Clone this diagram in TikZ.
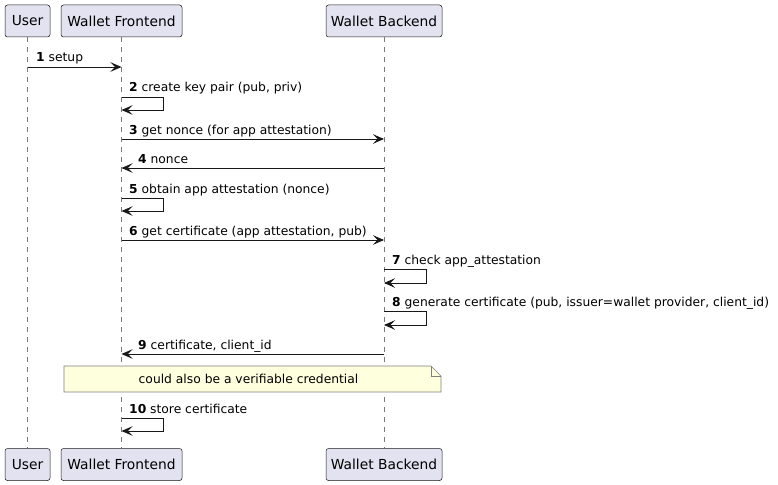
\documentclass[tikz,border=0pt]{standalone}
\usepackage{fontspec}
\setmainfont{DejaVu Sans}
\usetikzlibrary{arrows.meta}
\definecolor{partfill}{HTML}{E2E2F0}
\definecolor{partline}{HTML}{181818}
\definecolor{notefill}{HTML}{FEFFDD}
\definecolor{noteline}{HTML}{808080}
\definecolor{lifeline}{HTML}{7A7A7A}
\begin{document}
\begin{tikzpicture}[x=1pt,y=-1pt,
 part/.style={draw=partline, fill=partfill, rounded corners=2.5pt, line width=0.5pt, minimum height=32pt, inner sep=0pt, font=\fontsize{13.8}{15}\selectfont},
 life/.style={draw=lifeline, dash pattern=on 5pt off 5pt, line width=0.5pt},
 msg/.style={draw=partline, line width=0.9pt, -{Stealth[length=11pt,width=9.5pt,inset=4.5pt]}},
 lbl/.style={font=\fontsize{12.3}{14}\selectfont, anchor=base west, inner sep=0pt},
]
\useasboundingbox (0,0) rectangle (778,484);
% participants
\node[part, minimum width=45pt] (uT) at (27.5,21) {User};
\node[part, minimum width=121pt] (fT) at (121.5,21) {Wallet Frontend};
\node[part, minimum width=116pt] (bT) at (384,21) {Wallet Backend};
\node[part, minimum width=45pt] (uB) at (27.5,464.5) {User};
\node[part, minimum width=121pt] (fB) at (121.5,464.5) {Wallet Frontend};
\node[part, minimum width=116pt] (bB) at (384,464.5) {Wallet Backend};
% lifelines
\draw[life] (uT.south) -- (uB.north);
\draw[life] (fT.south) -- (fB.north);
\draw[life] (bT.south) -- (bB.north);
% message endpoints
\coordinate (u1) at (27.5,67);  \coordinate (f1) at (121.5,67);
\coordinate (f2a) at (121.5,97); \coordinate (f2b) at (121.5,110);
\coordinate (f3) at (121.5,139); \coordinate (b3) at (384,139);
\coordinate (b4) at (384,168); \coordinate (f4) at (121.5,168);
\coordinate (f5a) at (121.5,198); \coordinate (f5b) at (121.5,211);
\coordinate (f6) at (121.5,240); \coordinate (b6) at (384,240);
\coordinate (b7a) at (384,269); \coordinate (b7b) at (384,283);
\coordinate (b8a) at (384,311); \coordinate (b8b) at (384,325);
\coordinate (b9) at (384,354); \coordinate (f9) at (121.5,354);
\coordinate (f10a) at (121.5,418); \coordinate (f10b) at (121.5,431);
% messages
\draw[msg] (u1) -- (f1);
\node[lbl] (l1) at (36,62) {\textbf{1} setup};
\draw[msg] (f2a) -- ++(42,0) |- (f2b);
\node[lbl] (l2) at (129,92) {\textbf{2} create key pair (pub, priv)};
\draw[msg] (f3) -- (b3);
\node[lbl] (l3) at (129,134) {\textbf{3} get nonce (for app attestation)};
\draw[msg] (b4) -- (f4);
\node[lbl] (l4) at (138,163) {\textbf{4} nonce};
\draw[msg] (f5a) -- ++(42,0) |- (f5b);
\node[lbl] (l5) at (129,193) {\textbf{5} obtain app attestation (nonce)};
\draw[msg] (f6) -- (b6);
\node[lbl] (l6) at (129,235) {\textbf{6} get certificate (app attestation, pub)};
\draw[msg] (b7a) -- ++(42,0) |- (b7b);
\node[lbl] (l7) at (392,264) {\textbf{7} check app\_attestation};
\draw[msg] (b8a) -- ++(42,0) |- (b8b);
\node[lbl] (l8) at (392,306) {\textbf{8} generate certificate (pub, issuer=wallet provider, client\_id)};
\draw[msg] (b9) -- (f9);
\node[lbl] (l9) at (138,349) {\textbf{9} certificate, client\_id};
% note
\draw[draw=noteline, fill=notefill, line width=0.6pt] (64,366) -- (431,366) -- (441,376) -- (441,392) -- (64,392) -- cycle;
\draw[draw=noteline, line width=0.6pt] (431,366) -- (431,376) -- (441,376);
\node[font=\fontsize{12.3}{14}\selectfont, inner sep=0pt] (note) at (248.5,379) {could also be a verifiable credential};
\draw[msg] (f10a) -- ++(42,0) |- (f10b);
\node[lbl] (l10) at (129,413) {\textbf{10} store certificate};
\end{tikzpicture}
\end{document}
